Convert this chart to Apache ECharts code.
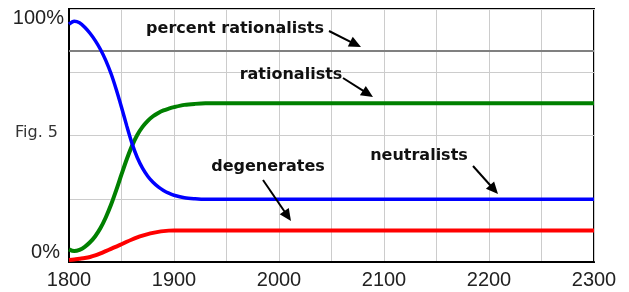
<!DOCTYPE html>
<html>
<head>
<meta charset="utf-8">
<script src="https://cdn.jsdelivr.net/npm/echarts@6/dist/echarts.min.js"></script>
<style>
html,body{margin:0;padding:0;background:#fff;}
#c{width:629px;height:292px;}
</style>
</head>
<body>
<div id="c"></div>
<script>
// ---- data ----
var years = [1800,1805,1810,1815,1820,1825,1830,1835,1840,1845,1850,1855,1860,1865,1870,1875,1880,1885,1890,1895,1900,1910,1920,1930,2000,2100,2200,2300];
var neutralists = [94,95.2,94.6,92.8,90.4,87.5,84.0,79.7,74.5,68.2,61.2,53.8,46.9,41.3,37.1,33.9,31.5,29.7,28.3,27.2,26.4,25.4,25.0,24.8,24.8,24.8,24.8,24.8];
var rationalists = [5.0,4.3,4.8,6.0,7.8,10.2,13.4,17.6,22.6,28.4,34.6,40.6,45.9,50.2,53.4,55.8,57.6,58.9,59.9,60.6,61.2,62.1,62.5,62.7,62.7,62.7,62.7,62.7];
var degenerates = [0.8,1,1.3,1.6,2,2.6,3.4,4.3,5.2,6.1,7.0,8,8.9,9.7,10.4,11,11.5,11.9,12.2,12.4,12.5,12.5,12.5,12.5,12.5,12.5,12.5,12.5];
var percentYears = [1800,2300];
var percentRationalists = [83.4,83.4];
var xTickValues = [1800,1900,2000,2100,2200,2300];
var yTickValues = [0,50,100];
var yTickLabels = ['0%','Fig. 5','100%'];
var annotationTexts = ['percent rationalists','rationalists','degenerates','neutralists'];

function zip(xs, ys){ return xs.map(function(x,i){ return [x, ys[i]]; }); }

// annotation layout (pixel positions of labels and arrows)
var annLayout = [
  {tx:235, ty:29, a:[329,31,361,47]},
  {tx:291, ty:75, a:[343,78,373,97]},
  {tx:268, ty:167, a:[263,180,291,221]},
  {tx:419, ty:156, a:[473,166,498,194]}
];
var graphics = [];
annLayout.forEach(function(L, i){
  graphics.push({type:'text', x:L.tx, y:L.ty, z:100, style:{text:annotationTexts[i], x:0, y:0, textAlign:'center', textVerticalAlign:'middle', font:'bold 16px "DejaVu Sans"', fill:'#111'}});
  var x1=L.a[0], y1=L.a[1], x2=L.a[2], y2=L.a[3];
  var dx=x2-x1, dy=y2-y1, len=Math.sqrt(dx*dx+dy*dy), ux=dx/len, uy=dy/len;
  var hl=12, hw=5.5;
  var bx=x2-ux*hl, by=y2-uy*hl;
  graphics.push({type:'line', z:100, shape:{x1:x1,y1:y1,x2:bx+ux*2,y2:by+uy*2}, style:{stroke:'#000', lineWidth:2}});
  graphics.push({type:'polygon', z:100, shape:{points:[[x2,y2],[bx-uy*hw,by+ux*hw],[bx+uy*hw,by-ux*hw]]}, style:{fill:'#000'}});
});

var chart = echarts.init(document.getElementById('c'), null, {renderer:'canvas'});
chart.setOption({
  animation:false,
  backgroundColor:'#fff',
  grid:{left:69, right:35, top:9, bottom:30, show:true, borderColor:'#000', borderWidth:2, backgroundColor:'transparent'},
  xAxis:{type:'value', min:1800, max:2300, interval:50,
    axisLine:{show:true, lineStyle:{color:'#000', width:2}},
    axisTick:{show:false},
    splitLine:{show:true, lineStyle:{color:'#cccccc', width:1}},
    axisLabel:{margin:8, color:'#222', fontSize:20, fontFamily:'"Liberation Sans", Arial',
      formatter:function(v){ return xTickValues.indexOf(v)>=0 ? String(v) : ''; }}
  },
  yAxis:{type:'value', min:0, max:100, interval:25,
    axisLine:{show:true, lineStyle:{color:'#000', width:2}},
    axisTick:{show:false},
    splitLine:{show:true, lineStyle:{color:'#cccccc', width:1}},
    axisLabel:{margin:5, color:'#222',
      formatter:function(v){ var i=yTickValues.indexOf(v); if(i<0) return ''; return '{t'+i+'|'+yTickLabels[i]+'}'; },
      rich:{
        t0:{fontSize:20, fontFamily:'"Liberation Sans", Arial', color:'#222', padding:[0,4,20,0]},
        t1:{fontSize:16, fontFamily:'"DejaVu Sans"', color:'#333', padding:[0,6,6,0]},
        t2:{fontSize:20, fontFamily:'"Liberation Sans", Arial', color:'#222', padding:[18,0,0,0]}
      }
    }
  },
  series:[
    {type:'line', data:zip(percentYears, percentRationalists), symbol:'none', lineStyle:{color:'#808080', width:2}, z:2},
    {type:'line', data:zip(years, rationalists), symbol:'none', smooth:0.3, lineStyle:{color:'#008000', width:4}, z:3},
    {type:'line', data:zip(years, neutralists), symbol:'none', smooth:0.3, lineStyle:{color:'#0000ff', width:3.5}, z:4},
    {type:'line', data:zip(years, degenerates), symbol:'none', smooth:0.3, lineStyle:{color:'#ff0000', width:4}, z:5}
  ],
  graphic:graphics
});
</script>
</body>
</html>
